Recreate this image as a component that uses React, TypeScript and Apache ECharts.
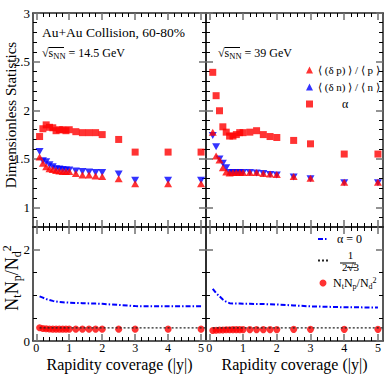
import React, { useEffect, useRef } from 'react';
import * as echarts from 'echarts';

// ---------------- data ----------------
const X = [0.1, 0.2, 0.3, 0.4, 0.5, 0.6, 0.7, 0.8, 0.9, 1.0, 1.2, 1.4, 1.6, 1.8, 2.0, 2.5, 3, 4, 5];

// sqrt(s_NN) = 14.5 GeV (left panels)
const alpha145 = [1.73, 1.81, 1.85, 1.825, 1.82, 1.79, 1.8, 1.8, 1.79, 1.8, 1.78, 1.77, 1.77, 1.77, 1.75, 1.7, 1.57, 1.57, 1.57];
const dp145 = [1.52, 1.455, 1.42, 1.4, 1.39, 1.38, 1.375, 1.37, 1.37, 1.37, 1.35, 1.335, 1.335, 1.325, 1.32, 1.295, 1.245, 1.245, 1.245];
const dn145 = [1.575, 1.48, 1.47, 1.44, 1.42, 1.4, 1.395, 1.39, 1.385, 1.385, 1.375, 1.37, 1.365, 1.36, 1.36, 1.345, 1.28, 1.28, 1.28];
const alpha0_145 = [0.98, 0.95, 0.92, 0.9, 0.88, 0.865, 0.855, 0.85, 0.845, 0.84, 0.835, 0.83, 0.825, 0.82, 0.815, 0.79, 0.765, 0.76, 0.76];
const ratio145 = [0.29, 0.275, 0.27, 0.265, 0.26, 0.26, 0.26, 0.26, 0.26, 0.26, 0.26, 0.26, 0.26, 0.26, 0.26, 0.26, 0.26, 0.26, 0.26];

// sqrt(s_NN) = 39 GeV (right panels)
const alpha39 = [2.39, 2.15, 1.995, 1.83, 1.775, 1.735, 1.735, 1.75, 1.77, 1.77, 1.775, 1.79, 1.75, 1.73, 1.72, 1.69, 1.655, 1.55, 1.55];
const dp39 = [1.775, 1.53, 1.49, 1.41, 1.365, 1.355, 1.36, 1.36, 1.36, 1.36, 1.36, 1.36, 1.35, 1.345, 1.34, 1.32, 1.3, 1.26, 1.26];
const dn39 = [1.74, 1.625, 1.5, 1.455, 1.41, 1.36, 1.36, 1.36, 1.36, 1.36, 1.36, 1.355, 1.35, 1.34, 1.335, 1.315, 1.295, 1.255, 1.255];
const alpha0_39 = [1.145, 1.05, 0.98, 0.91, 0.86, 0.83, 0.82, 0.82, 0.82, 0.815, 0.815, 0.81, 0.81, 0.805, 0.8, 0.78, 0.76, 0.74, 0.735];
const ratio39 = [0.23, 0.235, 0.24, 0.24, 0.245, 0.245, 0.25, 0.25, 0.25, 0.25, 0.25, 0.25, 0.25, 0.25, 0.25, 0.255, 0.255, 0.255, 0.255];

// 1/(2*sqrt(3)) reference line
const FRAC_VALUE = 0.2887;
const FRAC_SPAN = [0.1, 5.15];

// ticks
const X_MAJOR = [0, 1, 2, 3, 4, 5];
const X_MINOR = [0.2, 0.4, 0.6, 0.8, 1.2, 1.4, 1.6, 1.8, 2.2, 2.4, 2.6, 2.8, 3.2, 3.4, 3.6, 3.8, 4.2, 4.4, 4.6, 4.8];
const Y_TOP_MAJOR = [1, 1.5, 2, 2.5, 3];
const Y_TOP_MINOR = [0.9, 1.1, 1.2, 1.3, 1.4, 1.6, 1.7, 1.8, 1.9, 2.1, 2.2, 2.3, 2.4, 2.6, 2.7, 2.8, 2.9];
const Y_BOT_MAJOR = [0, 2];
const Y_BOT_MINOR = [0.5, 1, 1.5];

// names
const N_DP = '⟨ (δ p) ⟩ / ⟨ p ⟩';
const N_DN = '⟨ (δ n) ⟩ / ⟨ n ⟩';
const N_A = 'α';
const N_A0 = 'α = 0';
const N_F = '1/(2√3)';
const N_R = 'NtNp/Nd²';

const SERIF = 'Liberation Serif';
const RED = '#ff0000';
const BLUE = '#0000ff';
const CLEAR = 'rgba(0,0,0,0)';

const pts = (ys: number[]) => X.map((x, i) => [x, ys[i]]);

const GRIDS = [
  { left: 33, top: 13, width: 173, height: 214 },
  { left: 206, top: 13, width: 177, height: 214 },
  { left: 33, top: 227, width: 173, height: 114 },
  { left: 206, top: 227, width: 177, height: 114 },
];

const majorTick = (vals: number[]) => ({
  show: true, inside: true, length: 7, customValues: vals,
  lineStyle: { color: '#6f6f6f', width: 1.5 },
});
const minorTick = (vals: number[]) => ({
  show: true, inside: true, length: 4, customValues: vals,
  lineStyle: { color: '#000', width: 1 },
});
const lineOn = { show: true, onZero: false, lineStyle: { color: '#222', width: 1.5 } };
const lineOff = { show: false, onZero: false };

const plain = (size: number) => ({ fontFamily: SERIF, fontSize: size, color: '#000' });

function xAxesFor(grid: number, labels: boolean) {
  const base = { type: 'value', gridIndex: grid, min: -0.1, max: 5.15, splitLine: { show: false } };
  return [
    {
      ...base, position: 'bottom', axisLine: lineOn, axisTick: majorTick(X_MAJOR),
      axisLabel: { show: labels, customValues: X_MAJOR, margin: 1, ...plain(12), lineHeight: 12 },
      name: labels ? 'Rapidity coverage (|y|)' : '', nameLocation: 'middle', nameGap: 15,
      nameMoveOverlap: false,
      nameTextStyle: { ...plain(16), lineHeight: 16 },
    },
    { ...base, position: 'bottom', axisLine: lineOff, axisTick: minorTick(X_MINOR), axisLabel: { show: false } },
    { ...base, position: 'top', axisLine: lineOn, axisTick: majorTick(X_MAJOR), axisLabel: { show: false } },
    { ...base, position: 'top', axisLine: lineOff, axisTick: minorTick(X_MINOR), axisLabel: { show: false } },
  ];
}

function yAxesFor(grid: number, top: boolean, labels: boolean) {
  const major = top ? Y_TOP_MAJOR : Y_BOT_MAJOR;
  const minor = top ? Y_TOP_MINOR : Y_BOT_MINOR;
  const base = {
    type: 'value', gridIndex: grid, min: top ? 0.8 : 0, max: top ? 3 : 2.5, splitLine: { show: false },
  };
  const nameCfg = !labels
    ? {}
    : top
    ? {
        name: 'Dimensionless Statistics', nameLocation: 'middle', nameGap: 15, nameMoveOverlap: false,
        nameTextStyle: { ...plain(15), padding: [0, 0, 0, 10] },
      }
    : {
        name: '{n|N}{s|t}{n|N}{s|p}{n|/N}{s|d}{u|2}', nameLocation: 'middle', nameGap: 10, nameMoveOverlap: false,
        nameTextStyle: {
          ...plain(18), padding: [0, 0, 0, 12],
          rich: {
            n: { ...plain(18), lineHeight: 22 },
            s: { ...plain(12), lineHeight: 14, verticalAlign: 'bottom' },
            u: { ...plain(12), lineHeight: 14, verticalAlign: 'top' },
          },
        },
      };
  return [
    {
      ...base, position: 'left', axisLine: lineOn, axisTick: majorTick(major),
      axisLabel: { show: labels, customValues: major, margin: 3, ...plain(13) },
      ...nameCfg,
    },
    { ...base, position: 'left', axisLine: lineOff, axisTick: minorTick(minor), axisLabel: { show: false } },
    { ...base, position: 'right', axisLine: lineOn, axisTick: majorTick(major), axisLabel: { show: false } },
    { ...base, position: 'right', axisLine: lineOff, axisTick: minorTick(minor), axisLabel: { show: false } },
  ];
}

function topSeries(grid: number, alpha: number[], dp: number[], dn: number[]) {
  const ax = { xAxisIndex: grid * 4, yAxisIndex: grid * 4 };
  return [
    { ...ax, type: 'scatter', name: N_A, data: pts(alpha), symbol: 'rect', symbolSize: 7, itemStyle: { color: RED } },
    { ...ax, type: 'scatter', name: N_DN, data: pts(dn), symbol: 'triangle', symbolRotate: 180, symbolSize: [8, 7], itemStyle: { color: BLUE } },
    { ...ax, type: 'scatter', name: N_DP, data: pts(dp), symbol: 'triangle', symbolSize: [8, 7], itemStyle: { color: RED } },
  ];
}

function bottomSeries(grid: number, a0: number[], ratio: number[]) {
  const ax = { xAxisIndex: grid * 4, yAxisIndex: grid * 4 };
  return [
    {
      ...ax, type: 'line', name: N_A0, data: pts(a0), symbol: 'none', showSymbol: false,
      lineStyle: { color: BLUE, width: 2, type: [5, 2, 1.5, 2] }, itemStyle: { color: CLEAR, borderWidth: 0 },
    },
    {
      ...ax, type: 'line', name: N_F, data: FRAC_SPAN.map((x) => [x, FRAC_VALUE]), symbol: 'none', showSymbol: false,
      lineStyle: { color: '#222', width: 1.2, type: [2, 2] }, itemStyle: { color: CLEAR, borderWidth: 0 },
    },
    { ...ax, type: 'scatter', name: N_R, data: pts(ratio), symbol: 'circle', symbolSize: 7, itemStyle: { color: RED } },
  ];
}

const sqrtText = (x: number, y: number, energy: string) => ({
  type: 'text', x, y,
  style: {
    text: `{r|√}{s|s}{b|NN}{t| = ${energy} GeV}`,
    verticalAlign: 'middle', fill: '#000', fontFamily: SERIF, fontSize: 12,
    rich: {
      r: { fontFamily: SERIF, fontSize: 12, lineHeight: 15, fill: '#000' },
      s: { fontFamily: SERIF, fontSize: 12, lineHeight: 15, fill: '#000' },
      b: { fontFamily: SERIF, fontSize: 8.5, lineHeight: 11, verticalAlign: 'bottom', fill: '#000' },
      t: { fontFamily: SERIF, fontSize: 12, lineHeight: 15, fill: '#000' },
    },
  },
});

const hline = (x1: number, x2: number, y: number, w = 1) => ({
  type: 'line', shape: { x1, y1: y, x2, y2: y }, style: { stroke: '#000', lineWidth: w },
});

export default function App() {
  const ref = useRef<HTMLDivElement>(null);
  useEffect(() => {
    if (!ref.current) return;
    const chart = echarts.init(ref.current, undefined, { renderer: 'svg' });
    const option: any = {
      animation: false,
      backgroundColor: '#fff',
      textStyle: { fontFamily: SERIF },
      grid: GRIDS.map((g) => ({ ...g, containLabel: false, outerBoundsMode: 'none' })),
      xAxis: [...xAxesFor(0, false), ...xAxesFor(1, false), ...xAxesFor(2, true), ...xAxesFor(3, true)],
      yAxis: [...yAxesFor(0, true, true), ...yAxesFor(1, true, false), ...yAxesFor(2, false, true), ...yAxesFor(3, false, false)],
      legend: [
        {
          data: [N_DP, N_DN, N_A], orient: 'vertical', left: 306, top: 63.5, padding: 0,
          itemWidth: 7, itemHeight: 7, itemGap: 4,
          formatter: (name: string) => (name === N_A ? '{a|α}' : name),
          textStyle: {
            ...plain(11), lineHeight: 13,
            rich: { a: { ...plain(12), lineHeight: 13, padding: [0, 0, 0, 24] } },
          },
        },
        {
          data: [N_A0, N_F, N_R], orient: 'vertical', left: 317, top: 233, padding: 0,
          itemWidth: 10, itemHeight: 7, itemGap: 4,
          formatter: (name: string) =>
            name === N_A0 ? '{a|α = 0}' : name === N_F ? '{n|1}\n{d|2√3}' : '{m|N}{s|t}{m|N}{s|p}{m|/N}{s|d}{u|2}',
          textStyle: {
            ...plain(12),
            rich: {
              a: { ...plain(12), lineHeight: 14, padding: [0, 0, 0, 4] },
              n: { ...plain(11), lineHeight: 12, align: 'center', padding: [0, 0, 0, 9] },
              d: { ...plain(11), lineHeight: 12, align: 'center', padding: [0, 0, 0, 9] },
              m: { ...plain(12), lineHeight: 14 },
              s: { ...plain(8), lineHeight: 9, verticalAlign: 'bottom' },
              u: { ...plain(8), lineHeight: 9, verticalAlign: 'top' },
            },
          },
        },
      ],
      graphic: [
        {
          type: 'text', x: 42, y: 32,
          style: { text: 'Au+Au Collision, 60-80%', fontFamily: SERIF, fontSize: 13.5, fill: '#000', verticalAlign: 'middle' },
        },
        sqrtText(42, 53, '14.5'),
        hline(48.5, 64, 47.5),
        sqrtText(218, 53, '39'),
        hline(224.5, 240, 47.5),
        hline(340, 356, 263),
        hline(347, 356, 267.5, 0.8),
      ],
      series: [
        ...topSeries(0, alpha145, dp145, dn145),
        ...topSeries(1, alpha39, dp39, dn39),
        ...bottomSeries(2, alpha0_145, ratio145),
        ...bottomSeries(3, alpha0_39, ratio39),
      ],
    };
    chart.setOption(option);
    return () => chart.dispose();
  }, []);
  return <div ref={ref} style={{ position: 'absolute', left: 0, top: 0, width: 390, height: 379 }} />;
}
